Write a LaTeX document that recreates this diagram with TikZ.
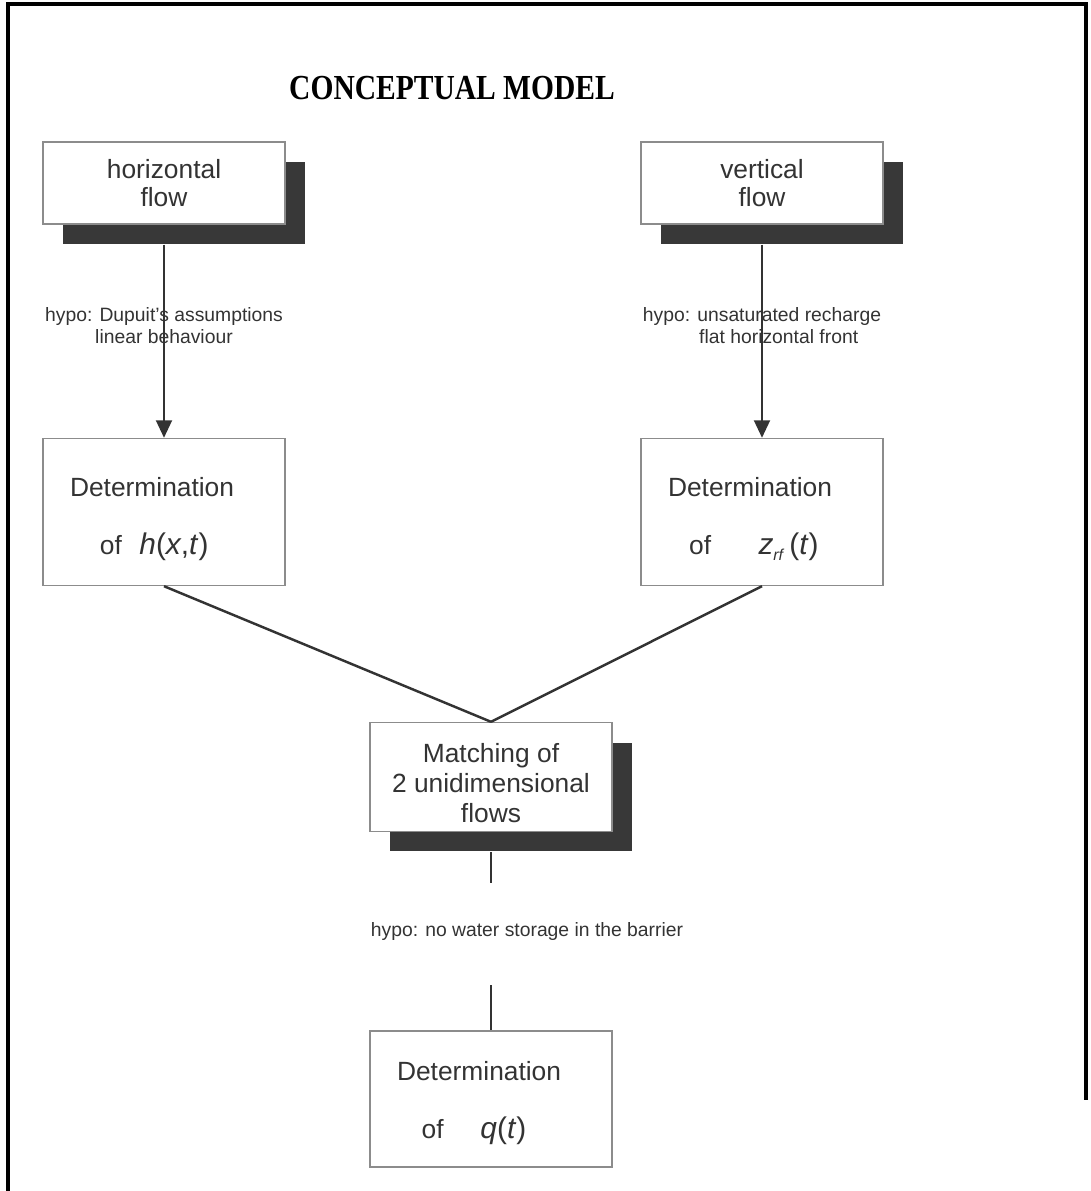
\documentclass[tikz,border=0pt]{standalone}
\usepackage{fontspec}
\setmainfont{Liberation Sans}
\newfontfamily\titlefont[FakeStretch=0.84]{Liberation Serif}
\usetikzlibrary{arrows.meta,shadows}

\begin{document}
\begin{tikzpicture}[
            x=0.02cm, y=-0.02cm,
            box/.style={rectangle, draw=black!45, line width=0.8pt, fill=white, text=black!80,
                        minimum width=4.84cm, align=center, font=\fontsize{15}{16}\selectfont},
            shadowbox/.style={box, drop shadow={shadow xshift=0.4cm, shadow yshift=-0.4cm,
                        fill=black!78, opacity=1}},
            detbox/.style={box, align=left, text width=3.76cm, inner xsep=0.54cm},
            arrow/.style={-{Triangle[length=10pt,width=9pt]}, draw=black!80, line width=1.5pt},
            link/.style={draw=black!80, line width=1.4pt},
            hypo/.style={align=center, text=black!80, font=\fontsize{11}{12.5}\selectfont}
        ]
            \useasboundingbox (0,0) rectangle (1090,1191);
            \draw[line width=2pt] (8,1191) -- (8,4) -- (1086,4) -- (1086,1100);

            % Title
            \node[font=\titlefont\bfseries\fontsize{20}{22}\selectfont] (title) at (452,88) {CONCEPTUAL MODEL};

            % Nodes
            \node[shadowbox, minimum height=1.64cm] (hflow) at (164,183) {horizontal\\flow};
            \node[shadowbox, minimum height=1.64cm] (vflow) at (762,183) {vertical\\flow};
            \node[detbox, minimum height=2.94cm] (hdet) at (164,512)
                {\rule{0pt}{19pt}Determination\\[17pt]\hspace*{17pt}of\hspace{10pt}{\fontsize{17}{18}\selectfont\textit{h}(\textit{x},\textit{t})}};
            \node[detbox, minimum height=2.94cm] (vdet) at (762,512)
                {\rule{0pt}{19pt}Determination\\[17pt]\hspace*{12pt}of\hspace{27pt}{\fontsize{17}{18}\selectfont\textit{z}\raisebox{-0.35ex}{\fontsize{9}{9}\selectfont\textit{rf}}\,(\textit{t})}};
            \node[shadowbox, minimum height=2.18cm, font=\fontsize{15}{17}\selectfont] (match) at (491,777)
                {\rule{0pt}{17.6pt}Matching of\\2 unidimensional\\flows};
            \node[detbox, minimum height=2.72cm] (qdet) at (491,1099)
                {\rule{0pt}{15.3pt}Determination\\[17pt]\hspace*{14pt}of\hspace{21pt}{\fontsize{17}{18}\selectfont\textit{q}(\textit{t})}};

            % Hypotheses
            \node[hypo] (hhypo) at (164,326) {hypo: Dupuit's assumptions\\linear behaviour};
            \node[hypo] (vhypo) at (762,326) {hypo: unsaturated recharge\\\hspace*{19pt}flat horizontal front};
            \node[hypo] (shypo) at (527,931) {hypo: no water storage in the barrier};
            \coordinate (gaptop) at (491,883);
            \coordinate (gapbot) at (491,985);

            % Arrows
            \draw[arrow] ([yshift=-0.4cm]hflow.south) -- (hdet.north);
            \draw[arrow] ([yshift=-0.4cm]vflow.south) -- (vdet.north);
            \draw[link] (hdet.south) -- (match.north);
            \draw[link] (vdet.south) -- (match.north);
            \draw[link] ([yshift=-0.4cm]match.south) -- (gaptop);
            \draw[link] (gapbot) -- (qdet.north);
        \end{tikzpicture}
\end{document}
